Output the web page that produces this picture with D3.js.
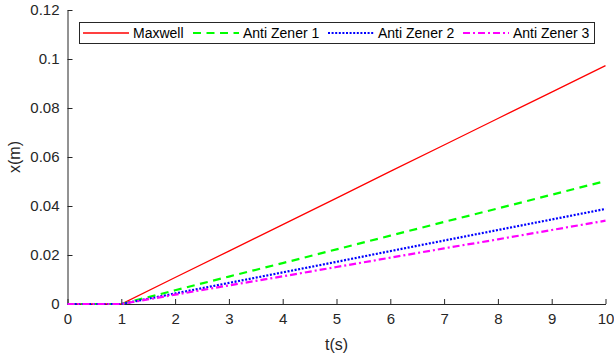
<!DOCTYPE html>
<html><head><meta charset="utf-8">
<script src="https://cdn.jsdelivr.net/npm/d3@7"></script>
<style>
html,body{margin:0;padding:0;background:#fff;}
svg{display:block;font-family:"Liberation Sans",Arial,sans-serif;}
</style></head>
<body>
<svg id="chart" width="614" height="359"></svg>
<script>
const time = [0,1,2,3,4,5,6,7,8,9,10];
const maxwell = [0,0,0.0108,0.0216,0.0324,0.0432,0.0541,0.0649,0.0757,0.0865,0.0973];
const antiZener1 = [0,0,0.0056,0.0112,0.0167,0.0223,0.0279,0.0335,0.0390,0.0446,0.0502];
const antiZener2 = [0,0,0.0043,0.0086,0.0129,0.0172,0.0216,0.0259,0.0302,0.0345,0.0388];
const antiZener3 = [0,0,0.0038,0.0076,0.0113,0.0151,0.0189,0.0227,0.0264,0.0302,0.0340];
const seriesNames = ["Maxwell","Anti Zener 1","Anti Zener 2","Anti Zener 3"];
const xTicks = [0,1,2,3,4,5,6,7,8,9,10];
const yTicks = [0,0.02,0.04,0.06,0.08,0.1,0.12];
const yTickLabels = ["0","0.02","0.04","0.06","0.08","0.1","0.12"];

(function(){
const styles = [
  {color:"#ff0000", width:1.3, dash:null},
  {color:"#00ff00", width:2.2, dash:"8,5.5"},
  {color:"#0000ff", width:2.2, dash:"2,1.6"},
  {color:"#ff00ff", width:2.2, dash:"7,3,2,3"}
];

const svg = d3.select("#chart");
const mLeft = 67.5, mRight = 605.5, mTop = 10, mBottom = 304;
const x = d3.scaleLinear().domain([0,10]).range([mLeft,mRight]);
const y = d3.scaleLinear().domain([0,0.12]).range([mBottom,mTop]);
const axisColor = "#262626";

const xAxis = svg.append("g").attr("transform",`translate(0,${mBottom})`)
  .call(d3.axisBottom(x).tickValues(xTicks).tickFormat(d3.format("d")).tickSizeInner(-5).tickSizeOuter(0).tickPadding(9));
const yAxis = svg.append("g").attr("transform",`translate(${mLeft},0)`)
  .call(d3.axisLeft(y).tickValues(yTicks).tickFormat((d,i)=>yTickLabels[i]).tickSizeInner(-5).tickSizeOuter(0).tickPadding(8));
[xAxis,yAxis].forEach(g=>{
  g.select(".domain").attr("stroke",axisColor).attr("stroke-width",1);
  g.selectAll(".tick line").attr("stroke",axisColor);
  g.selectAll(".tick text").attr("fill","#262626").style("font-size","15px").style("font-family","Liberation Sans, Arial, sans-serif");
});

const series = [maxwell, antiZener1, antiZener2, antiZener3];
const line = d3.line().x((d,i)=>x(time[i])).y(d=>y(d));

series.forEach((s,k)=>{
  const p = svg.append("path").datum(s)
    .attr("d", line)
    .attr("fill","none")
    .attr("stroke", styles[k].color)
    .attr("stroke-width", styles[k].width);
  if (styles[k].dash) p.attr("stroke-dasharray", styles[k].dash);
});

svg.append("text").attr("x",(mLeft+mRight)/2).attr("y",350)
  .attr("text-anchor","middle").attr("fill","#262626")
  .style("font-size","16px").text("t(s)");
svg.append("text").attr("transform","translate(20,157) rotate(-90)")
  .attr("text-anchor","middle").attr("fill","#262626")
  .style("font-size","16px").text("x(m)");

const lg = svg.append("g");
lg.append("rect").attr("x",79.5).attr("y",22.5).attr("width",515).attr("height",21)
  .attr("fill","#fff").attr("stroke","#262626").attr("stroke-width",1);
const itemX = [83, 193, 328, 463];
seriesNames.forEach((n,k)=>{
  const l = lg.append("line").attr("x1",itemX[k]).attr("x2",itemX[k]+46)
    .attr("y1",33).attr("y2",33)
    .attr("stroke",styles[k].color).attr("stroke-width",styles[k].width);
  if (styles[k].dash) l.attr("stroke-dasharray",styles[k].dash);
  lg.append("text").attr("x",itemX[k]+50).attr("y",38)
    .attr("fill","#000").style("font-size","14px").text(n);
});
})();
</script>
</body></html>
